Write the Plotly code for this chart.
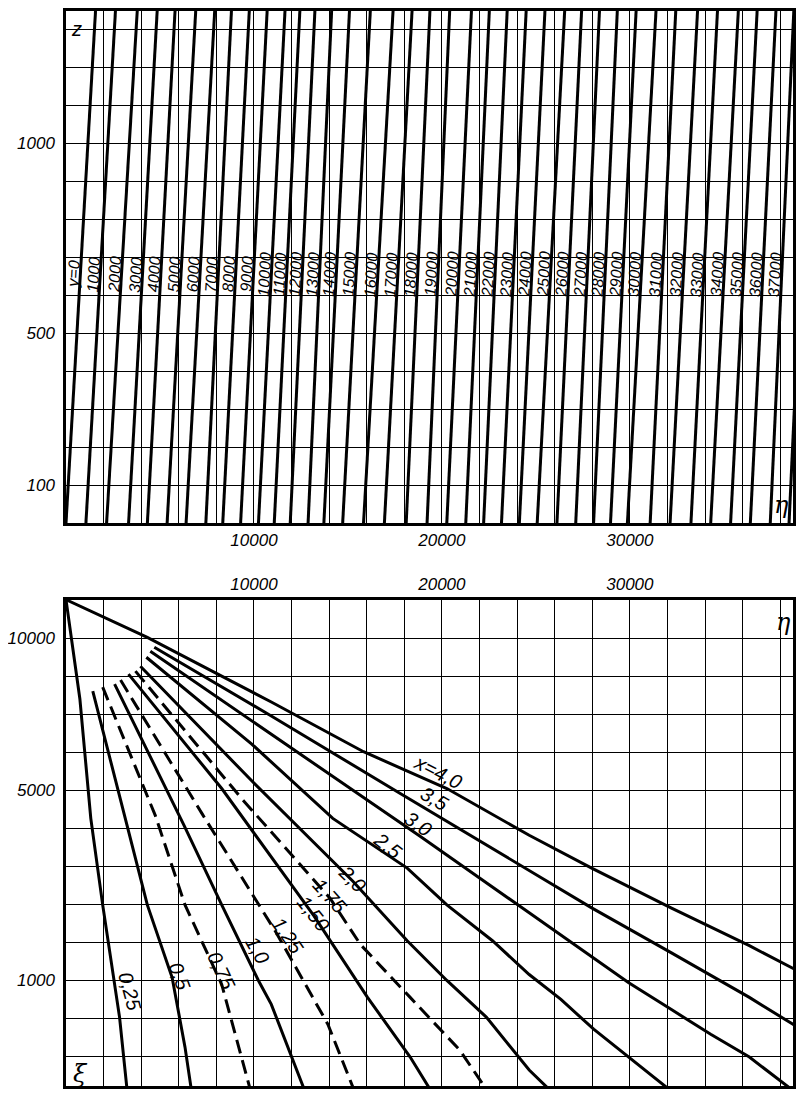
import plotly.graph_objects as go

# ---------------- DATA ----------------
# Top panel: lines of constant y in the (eta, z) plane
y_levels = [0, 1000, 2000, 3000, 4000, 5000, 6000, 7000, 8000, 9000,
            10000, 11000, 12000, 13000, 14000, 15000, 16000, 17000, 18000, 19000,
            20000, 21000, 22000, 23000, 24000, 25000, 26000, 27000, 28000, 29000,
            30000, 31000, 32000, 33000, 34000, 35000, 36000, 37000, 38000]
# eta where each line meets z = 0 (bottom) and z = 1356 (top)
eta_at_z_low = [0, 1060, 2160, 3330, 4330, 5380, 6390, 7440, 8340, 9290,
                10240, 11080, 11930, 12880, 13720, 14720, 15830, 16940, 18100, 19210,
                20260, 21270, 22220, 23170, 24120, 25070, 26120, 27120, 28070, 28970,
                29870, 31080, 32140, 33250, 34300, 35360, 36410, 37470, 38470]
eta_at_z_high = [1580, 2640, 3800, 4860, 5810, 6910, 7920, 8810, 9760, 10710,
                 11660, 12450, 13250, 14140, 15090, 16200, 17410, 18420, 19370, 20420,
                 21580, 22530, 23480, 24490, 25490, 26540, 27440, 28390, 29340, 30340,
                 31400, 32450, 33610, 34670, 35780, 36780, 37780, 38730, 39740]
z_low, z_high = 0, 1356

z_tick_labels = [100, 500, 1000]
eta_tick_labels = [10000, 20000, 30000]
xi_tick_labels = [10000, 5000, 1000]

# Bottom panel: curves of constant x in the (eta, xi) plane
x_names = ["x=4,0", "3,5", "3,0", "2,5", "2,0", "1,75", "1,50", "1,25", "1,0", "0,75", "0,5", "0,25"]
x_dashed = [False, False, False, False, False, True, False, True, False, True, False, False]

eta_x40 = [0, 4327, 10923, 15831, 20264, 24644, 27968, 32190, 36358, 39102]
xi_x40 = [11500, 10036, 7729, 6135, 5060, 3827, 3050, 2215, 1530, 1112]
eta_x35 = [4697, 10923, 17783, 24644, 27968, 32190, 36358, 39102]
xi_x35 = [9665, 7266, 4922, 3005, 2215, 1416, 778, 428]
eta_x30 = [4485, 11451, 18839, 24644, 26754, 29921, 32190, 34301, 36358, 38900]
xi_x30 = [9518, 6472, 3802, 2119, 1614, 972, 636, 381, 199, 22]
eta_x25 = [4274, 9868, 14195, 18153, 20264, 22691, 24644, 26332, 28074, 29921, 32401]
xi_x25 = [9299, 6379, 4255, 3050, 2273, 1614, 1084, 753, 428, 199, 21]
eta_x20 = [3958, 9868, 15251, 18153, 20264, 22374, 24644, 25963]
xi_x20 = [8976, 5285, 2766, 1614, 1000, 548, 119, 21]
eta_x175 = [3694, 9340, 14037, 15673, 18311, 20950, 22533]
xi_x175 = [8798, 4785, 2412, 1547, 778, 249, 21]
eta_x150 = [3325, 8285, 13192, 16042, 18311, 19525]
xi_x150 = [8691, 5060, 2062, 778, 199, 21]
eta_x125 = [2902, 7229, 11187, 13931, 15409]
xi_x125 = [8486, 4385, 1753, 477, 21]
eta_x10 = [2586, 6280, 8285, 10237, 10923, 12770]
xi_x10 = [8341, 4076, 2273, 1000, 694, 21]
eta_x075 = [1952, 4749, 6332, 8285, 9868]
xi_x075 = [8238, 4333, 2273, 946, 21]
eta_x05 = [1425, 3166, 4327, 5646, 6332, 6702]
xi_x05 = [8101, 4255, 2273, 1041, 272, 21]
eta_x025 = [0, 739, 1319, 1952, 2850, 3272]
xi_x025 = [11500, 7831, 4255, 2273, 548, 21]

curve_eta = [eta_x40, eta_x35, eta_x30, eta_x25, eta_x20, eta_x175, eta_x150,
             eta_x125, eta_x10, eta_x075, eta_x05, eta_x025]
curve_xi = [xi_x40, xi_x35, xi_x30, xi_x25, xi_x20, xi_x175, xi_x150,
            xi_x125, xi_x10, xi_x075, xi_x05, xi_x025]

# ---------------- SCALES / LAYOUT ----------------
ETA_MAX = 38680
Z_MAX = 1348
XI_MIN, XI_MAX = 46, 11500
XI_EXP = 0.565            # non-uniform xi scale of the original chart


def T(xi):
    return xi ** XI_EXP


FONT = "Liberation Sans"
tickfont = dict(family=FONT, size=17, color="black", style="italic")

fig = go.Figure()

# top panel lines
for eb, et in zip(eta_at_z_low, eta_at_z_high):
    fig.add_trace(go.Scatter(x=[eb, et], y=[z_low, z_high], mode="lines",
                             line=dict(color="black", width=3),
                             xaxis="x", yaxis="y", hoverinfo="skip"))

# bottom panel curves
for ex, xs, d in zip(curve_eta, curve_xi, x_dashed):
    fig.add_trace(go.Scatter(x=ex, y=[T(v) for v in xs], mode="lines",
                             line=dict(color="black", width=3,
                                       dash="14px,7px" if d else "solid"),
                             xaxis="x2", yaxis="y2", hoverinfo="skip"))

annotations = []
# labels of the top-panel lines
Z_LAB = 655
for yl, eb, et in zip(y_levels, eta_at_z_low, eta_at_z_high):
    eta_lab = eb + (et - eb) * (Z_LAB - z_low) / (z_high - z_low)
    annotations.append(dict(x=eta_lab, y=Z_LAB, xref="x", yref="y",
                            text=("y=0" if yl == 0 else str(yl)),
                            showarrow=False, textangle=-86.7, xshift=-7,
                            font=dict(family=FONT, size=16, color="black", style="italic")))

# labels of the bottom-panel curves
label_pos = [(19790, 5540, 27), (19630, 4760, 30), (18730, 4100, 34), (17150, 3560, 38),
             (15250, 2810, 45), (14040, 2450, 48), (13190, 2100, 52), (11820, 1700, 55),
             (10190, 1465, 60), (8290, 1140, 65), (6020, 1056, 70), (3380, 854, 75)]
for name, (ex, xv, ang) in zip(x_names, label_pos):
    annotations.append(dict(x=ex, y=T(xv), xref="x2", yref="y2", text=name,
                            showarrow=False, textangle=ang,
                            font=dict(family=FONT, size=20, color="black", style="italic")))

# axis letters
greek = dict(family="DejaVu Serif", size=24, color="black", style="italic")
annotations += [
    dict(x=580, y=1300, xref="x", yref="y", text="z", showarrow=False,
         font=dict(family=FONT, size=20, color="black", style="italic")),
    dict(x=38050, y=47, xref="x", yref="y", text="η", showarrow=False, font=greek),
    dict(x=38150, y=T(10640), xref="x2", yref="y2", text="η", showarrow=False, font=greek),
    dict(x=792, y=T(100), xref="x2", yref="y2", text="ξ", showarrow=False, font=greek),
]

eta_grid = list(range(2000, 39000, 2000))
eta_text = [str(v) if v in eta_tick_labels else "" for v in eta_grid]
z_grid = list(range(100, 1400, 100))
z_text = [str(v) if v in z_tick_labels else "" for v in z_grid]

g0 = T(10000)
gstep = (T(10000) - T(1000)) / 9
xi_grid = [g0 - k * gstep for k in range(0, 12)]
xi_text = []
for u in xi_grid:
    lab = ""
    for v in xi_tick_labels:
        if abs(T(v) - u) < 0.5 * gstep:
            lab = str(v)
    xi_text.append(lab)

common = dict(showgrid=True, gridcolor="black", gridwidth=1.2, showline=True,
              linecolor="black", linewidth=2.5, mirror=True, zeroline=False,
              ticks="outside", tickcolor="rgba(0,0,0,0)",
              tickfont=tickfont, tickmode="array", fixedrange=True)

# figure sized to fit the page inside the default 8px body margin (no scrolling)
fig.update_layout(
    width=788, height=1081,
    margin=dict(l=55, r=0, t=0, b=0),
    paper_bgcolor="white", plot_bgcolor="white", showlegend=False,
    xaxis=dict(domain=[0, 1], anchor="y", range=[0, ETA_MAX], ticklen=0,
               tickvals=eta_grid, ticktext=eta_text, **common),
    yaxis=dict(domain=[0.52359, 1], anchor="x", range=[z_low, Z_MAX], ticklen=5,
               tickvals=z_grid, ticktext=z_text, **common),
    xaxis2=dict(domain=[0, 1], anchor="y2", side="top", range=[0, ETA_MAX], ticklen=0,
                tickvals=eta_grid, ticktext=eta_text, **common),
    yaxis2=dict(domain=[0, 0.45236], anchor="x2", range=[T(XI_MIN), T(XI_MAX)], ticklen=5,
                tickvals=xi_grid, ticktext=xi_text, **common),
    annotations=annotations,
)

fig.write_html("out.html")
